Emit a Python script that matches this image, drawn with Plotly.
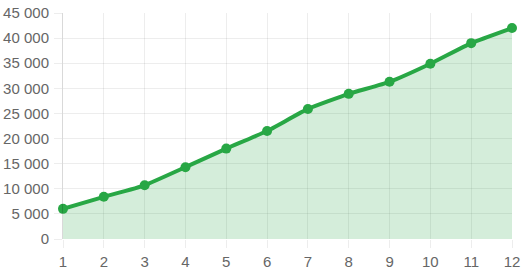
import plotly.graph_objects as go

months = [1, 2, 3, 4, 5, 6, 7, 8, 9, 10, 11, 12]
values = [6000, 8400, 10700, 14300, 18000, 21500, 25900, 28900, 31300, 34900, 39000, 42000]
y_ticks = [0, 5000, 10000, 15000, 20000, 25000, 30000, 35000, 40000, 45000]

green = "rgb(40,167,69)"
fig = go.Figure(go.Scatter(
    x=months, y=values, mode="lines+markers",
    line=dict(color=green, width=4, shape="spline", smoothing=0.4),
    marker=dict(color=green, size=10),
    fill="tozeroy", fillcolor="rgba(40,167,69,0.2)",
    hoverinfo="skip", cliponaxis=False,
))
grid = "rgba(0,0,0,0.07)"
fig.update_layout(
    width=525, height=275,
    margin=dict(l=63, r=13, t=13, b=36),
    paper_bgcolor="white", plot_bgcolor="white",
    separators=". ",
    showlegend=False,
    font=dict(family="Liberation Sans, Arial, sans-serif", size=15, color="#666"),
    xaxis=dict(range=[1, 12], tickvals=months, showgrid=True, gridcolor=grid,
               zeroline=False, showline=False, ticks="outside", ticklen=8,
               tickcolor=grid, fixedrange=True, automargin=False,
               ticklabelstandoff=1),
    yaxis=dict(range=[0, 45000], tickvals=y_ticks, tickformat=",d", showgrid=True,
               gridcolor=grid, zeroline=False, showline=True, linecolor="rgba(0,0,0,0.15)",
               ticks="outside", ticklen=8, tickcolor=grid, fixedrange=True,
               automargin=False, ticklabelstandoff=2),
)
fig.write_html("out.html")
